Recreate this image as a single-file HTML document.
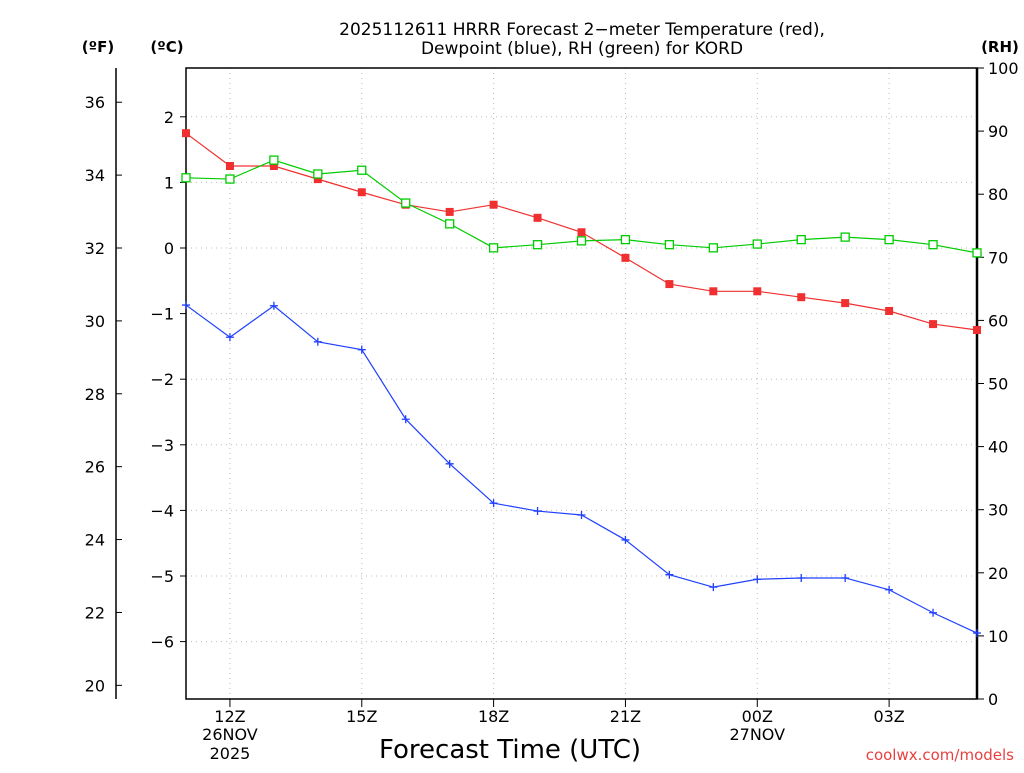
<!DOCTYPE html>
<html><head><meta charset="utf-8"><style>
html,body{margin:0;padding:0;background:#fff;}
svg text{font-family:"DejaVu Sans","Liberation Sans",sans-serif;}
</style></head><body>
<svg id="chart" width="1024" height="768" viewBox="0 0 1024 768" xmlns="http://www.w3.org/2000/svg">
<g font-size="17" text-anchor="middle" fill="#000" style="font-family:'DejaVu Sans Mono','Liberation Mono',monospace">
<text x="582" y="35">2025112611 HRRR Forecast 2−meter Temperature (red),</text>
<text x="582" y="54">Dewpoint (blue), RH (green) for KORD</text>
</g>
<text x="98" y="52" font-size="15" font-weight="bold" text-anchor="middle">(ºF)</text>
<text x="167" y="52" font-size="15" font-weight="bold" text-anchor="middle">(ºC)</text>
<text x="1000" y="52" font-size="15" font-weight="bold" text-anchor="middle">(RH)</text>
<g id="grid"></g>
<g id="axes"></g>
<g id="series"></g>
<text x="510" y="758" font-size="26" text-anchor="middle">Forecast Time (UTC)</text>
<text x="1014" y="760" font-size="15" fill="#e84040" text-anchor="end">coolwx.com/models</text>
</svg>
<script>
const hours = [0,1,2,3,4,5,6,7,8,9,10,11,12,13,14,15,16,17,18];
const tempC = [1.75,1.25,1.25,1.05,0.85,0.66,0.55,0.66,0.46,0.24,-0.15,-0.55,-0.66,-0.66,-0.75,-0.84,-0.96,-1.16,-1.25];
const dewC = [-0.87,-1.36,-0.88,-1.43,-1.55,-2.61,-3.29,-3.89,-4.01,-4.07,-4.45,-4.98,-5.17,-5.05,-5.03,-5.03,-5.21,-5.56,-5.87];
const rh = [82.6,82.4,85.4,83.2,83.8,78.6,75.3,71.5,72.0,72.6,72.8,72.0,71.5,72.1,72.8,73.2,72.8,72.0,70.7];
const xTickHours = [1,4,7,10,13,16];
const xTickLabels = ["12Z","15Z","18Z","21Z","00Z","03Z"];
const cTicks = [2,1,0,-1,-2,-3,-4,-5,-6];
const fTicks = [36,34,32,30,28,26,24,22,20];
const rhTicks = [0,10,20,30,40,50,60,70,80,90,100];

const L=186,R=977,T=68,B=699;
const xS=h=>L+(R-L)*h/18;
const yC=c=>248-65.6*c;
const yF=f=>yC((f-32)*5/9);
const yRH=v=>B-(B-T)*v/100;
const NS="http://www.w3.org/2000/svg";
function mk(tag,attrs,parent){const e=document.createElementNS(NS,tag);for(const k in attrs)e.setAttribute(k,attrs[k]);parent.appendChild(e);return e;}
const grid=document.getElementById('grid'),axes=document.getElementById('axes'),series=document.getElementById('series');

xTickHours.forEach(h=>{const g=mk('line',{x1:xS(h),x2:xS(h),y1:T,y2:B,stroke:'#bbb','stroke-dasharray':'1,4'},grid);

});
cTicks.forEach(c=>{const g=mk('line',{x1:L,x2:R,y1:yC(c),y2:yC(c),stroke:'#bbb','stroke-dasharray':'1,4'},grid);

});

mk('rect',{x:L,y:T,width:R-L,height:B-T,fill:'none',stroke:'#000','stroke-width':1.5},axes);
mk('line',{x1:R,x2:R,y1:T,y2:B,stroke:'#000','stroke-width':2.5},axes);
mk('line',{x1:116,x2:116,y1:T,y2:B,stroke:'#000','stroke-width':1.5},axes);
xTickHours.forEach((h,i)=>{
 mk('line',{x1:xS(h),x2:xS(h),y1:B,y2:B+8,stroke:'#000'},axes);
 const t=mk('text',{x:xS(h),y:B+23,'font-size':16,'text-anchor':'middle'},axes);t.textContent=xTickLabels[i];
 
 
});
[["26NOV",1,740],["2025",1,759],["27NOV",13,740]].forEach(d=>{const t=mk('text',{x:xS(d[1]),y:d[2],'font-size':16,'text-anchor':'middle'},axes);t.textContent=d[0];
 
 });
cTicks.forEach(c=>{
 mk('line',{x1:L-6,x2:L,y1:yC(c),y2:yC(c),stroke:'#000'},axes);
 const t=mk('text',{x:174,y:yC(c)+6,'font-size':16,'text-anchor':'end'},axes);t.textContent=(c<0?'−':'')+Math.abs(c);
 
 
});
fTicks.forEach(f=>{
 mk('line',{x1:116,x2:122,y1:yF(f),y2:yF(f),stroke:'#000'},axes);
 const t=mk('text',{x:105,y:yF(f)+6,'font-size':16,'text-anchor':'end'},axes);t.textContent=f;
 
 
});
rhTicks.forEach(v=>{
 mk('line',{x1:R,x2:R+7,y1:yRH(v),y2:yRH(v),stroke:'#000'},axes);
 const t=mk('text',{x:988,y:yRH(v)+6,'font-size':16,'text-anchor':'start'},axes);t.textContent=v;
 
 
});

function line(vals,yf,color,name){
 const p=mk('polyline',{points:vals.map((v,i)=>xS(hours[i])+','+yf(v)).join(' '),fill:'none',stroke:color,'stroke-width':1.2},series);
 
 
}
line(tempC,yC,'#f03030','temperature');
line(rh,yRH,'#00cc00','rh');
line(dewC,yC,'#2040ff','dewpoint');
tempC.forEach((v,i)=>{const m=mk('rect',{x:xS(hours[i])-4,y:yC(v)-4,width:8,height:8,fill:'#f03030'},series);
 
 });
rh.forEach((v,i)=>{const m=mk('rect',{x:xS(hours[i])-4,y:yRH(v)-4,width:8,height:8,fill:'#fff',stroke:'#00cc00','stroke-width':1.3},series);
 
 });
dewC.forEach((v,i)=>{const x=xS(hours[i]),y=yC(v);const m=mk('path',{d:`M${x-4},${y}H${x+4}M${x},${y-4}V${y+4}`,stroke:'#2040ff','stroke-width':1.3},series);
 
 });
</script>
</body></html>
